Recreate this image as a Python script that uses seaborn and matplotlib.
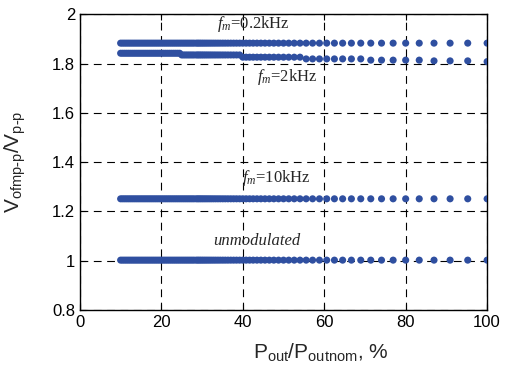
import numpy as np
import pandas as pd
import matplotlib
matplotlib.use("Agg")
import matplotlib.pyplot as plt
import seaborn as sns

sns.set_style("ticks")
plt.rcParams['font.family'] = ['Liberation Sans', 'DejaVu Sans']
plt.rcParams['mathtext.fontset'] = 'custom'
plt.rcParams['mathtext.rm'] = 'Liberation Serif'
plt.rcParams['mathtext.it'] = 'Liberation Serif:italic'

# load ratio, % (right to left)
p_out = [100.0, 95.24, 90.91, 86.96, 83.33, 80.00, 76.92, 74.07, 71.43, 68.97,
         66.67, 64.52, 62.50, 60.61, 58.82, 57.14, 55.56, 54.05, 52.63, 51.28,
         50.00, 48.78, 47.62, 46.51, 45.45, 44.44, 43.48, 42.55, 41.67, 40.82,
         40.00, 39.22, 38.46, 37.74, 37.04, 36.36, 35.71, 35.09, 34.48, 33.90,
         33.33, 32.79, 32.26, 31.75, 31.25, 30.77, 30.30, 29.85, 29.41, 28.99,
         28.57, 28.0, 27.5, 27.0, 26.5, 26.0, 25.5, 25.0, 24.5, 24.0,
         23.5, 23.0, 22.5, 22.0, 21.5, 21.0, 20.5, 20.0, 19.5, 19.0,
         18.5, 18.0, 17.5, 17.0, 16.5, 16.0, 15.5, 15.0, 14.5, 14.0,
         13.5, 13.0, 12.5, 12.0, 11.5, 11.0, 10.5, 10.0]

n = len(p_out)
v_02k = [1.883] * n
v_2k = ([1.808] + [1.811] * 3 + [1.814] * 5 + [1.819] * 8 + [1.826] * 14
        + [1.835] * 27 + [1.842] * 30)
v_10k = [1.251] * n
v_unmod = [1.002] * n

series_names = ["0.2kHz", "2kHz", "10kHz", "unmodulated"]
series_vals = [v_02k, v_2k, v_10k, v_unmod]

df = pd.concat([pd.DataFrame({"P": p_out, "V": v, "s": name})
                for name, v in zip(series_names, series_vals)])

fig = plt.figure(figsize=(5.09, 3.77), dpi=100)
ax = fig.add_axes([0.157, 0.178, 0.8, 0.784])

blue = "#2f4fa0"
sns.scatterplot(data=df, x="P", y="V", hue="s", palette=[blue] * 4,
                s=26, linewidth=0, legend=False, ax=ax, zorder=3)

ax.set_xlim(0, 100)
ax.set_ylim(0.8, 2)
ax.set_xticks([0, 20, 40, 60, 80, 100])
ax.set_yticks([0.8, 1, 1.2, 1.4, 1.6, 1.8, 2])
ax.set_yticklabels(["0.8", "1", "1.2", "1.4", "1.6", "1.8", "2"])
ax.grid(True, color="black", linestyle=(0, (7, 5)), linewidth=0.8)
ax.set_axisbelow(True)
ax.tick_params(direction="in", length=4, width=0.8, labelsize=12,
               top=True, right=True, colors="black")
for sp in ax.spines.values():
    sp.set_color("black")
    sp.set_linewidth(1.0)

ax.set_xlabel(r"P$_{\mathregular{out}}$/P$_{\mathregular{outnom}}$, %", fontsize=15)
ax.set_ylabel(r"V$_{\mathregular{ofmp\text{-}p}}$/V$_{\mathregular{p\text{-}p}}$", fontsize=15)
ax.xaxis.set_label_coords(0.592, -0.105)
ax.yaxis.set_label_coords(-0.128, 0.5)

tfont = dict(fontsize=12, family="Liberation Serif", va="center", ha="left")
ax.text(33.6, 1.961, r"$f_m$=0.2kHz", **tfont)
ax.text(43.5, 1.744, r"$f_m$=2kHz", **tfont)
ax.text(39.8, 1.336, r"$f_m$=10kHz", **tfont)
ax.text(32.8, 1.080, "unmodulated", style="italic", **tfont)

fig.savefig("out.png", dpi=100)
